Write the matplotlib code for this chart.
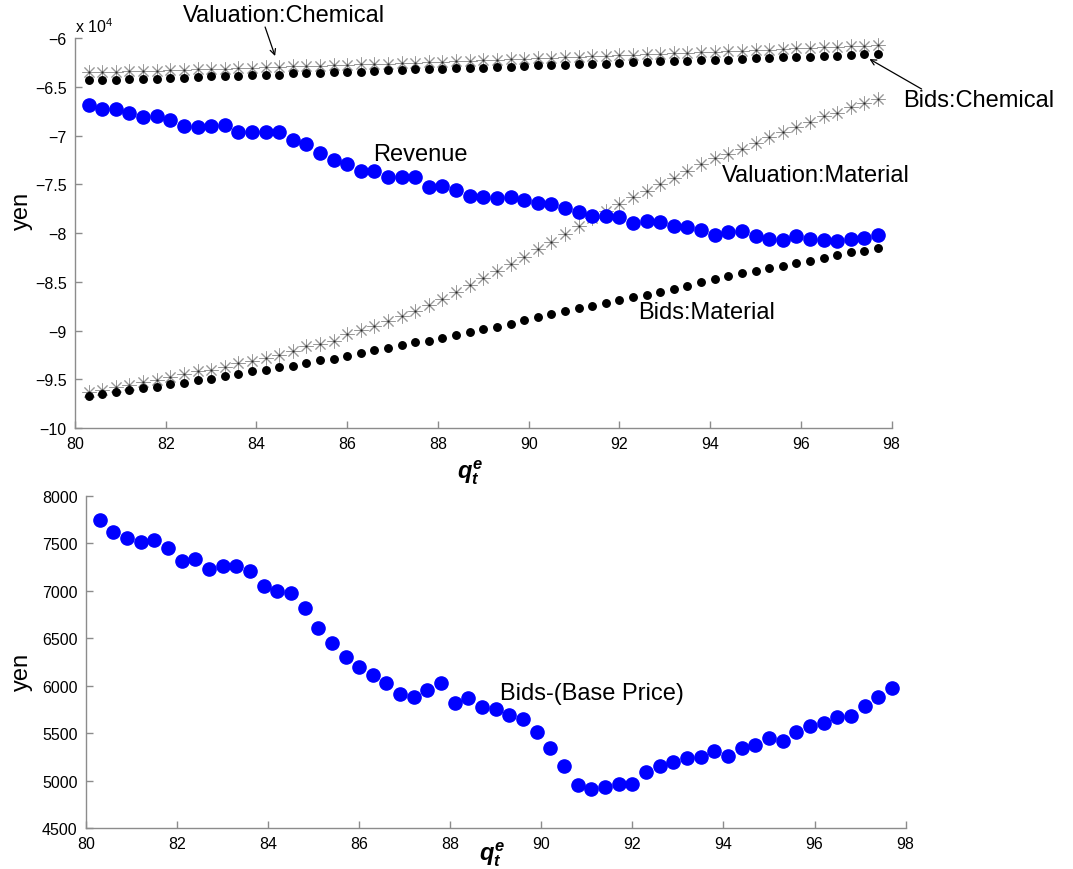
import matplotlib
matplotlib.use('Agg')
import matplotlib.pyplot as plt
from matplotlib.ticker import FuncFormatter

plt.rcParams['font.family'] = ['Liberation Sans', 'DejaVu Sans']
plt.rcParams['mathtext.fontset'] = 'custom'
plt.rcParams['mathtext.it'] = 'Liberation Sans:italic:bold'
plt.rcParams['mathtext.rm'] = 'Liberation Sans'

# q_t^e values (x axis of both panels)
q_e = [80.3, 80.6, 80.9, 81.2, 81.5, 81.8, 82.1, 82.4, 82.7, 83.0,
       83.3, 83.6, 83.9, 84.2, 84.5, 84.8, 85.1, 85.4, 85.7, 86.0,
       86.3, 86.6, 86.9, 87.2, 87.5, 87.8, 88.1, 88.4, 88.7, 89.0,
       89.3, 89.6, 89.9, 90.2, 90.5, 90.8, 91.1, 91.4, 91.7, 92.0,
       92.3, 92.6, 92.9, 93.2, 93.5, 93.8, 94.1, 94.4, 94.7, 95.0,
       95.3, 95.6, 95.9, 96.2, 96.5, 96.8, 97.1, 97.4, 97.7]

val_chemical = [-63500, -63470, -63430, -63400, -63350, -63320, -63280, -63220, -63200, -63150,
                -63100, -63060, -63020, -62980, -62930, -62890, -62850, -62800, -62760, -62720,
                -62680, -62630, -62590, -62540, -62500, -62450, -62400, -62350, -62300, -62250,
                -62200, -62150, -62100, -62050, -62000, -61950, -61900, -61850, -61800, -61750,
                -61700, -61650, -61590, -61530, -61480, -61420, -61370, -61310, -61250, -61200,
                -61150, -61090, -61030, -60980, -60920, -60860, -60810, -60750, -60690]

bids_chemical = [-64300, -64280, -64260, -64180, -64160, -64140, -64050, -64030, -64010, -63900,
                 -63880, -63860, -63750, -63740, -63720, -63600, -63590, -63570, -63460, -63450,
                 -63430, -63320, -63300, -63280, -63180, -63160, -63140, -63060, -63050, -63040,
                 -62930, -62910, -62890, -62780, -62760, -62750, -62640, -62620, -62600, -62500,
                 -62480, -62460, -62360, -62340, -62320, -62220, -62200, -62180, -62080, -62060,
                 -62040, -61940, -61920, -61900, -61800, -61780, -61760, -61620, -61600]

val_material = [-96270, -96100, -95820, -95550, -95310, -95040, -94730, -94460, -94180, -94050,
                -93770, -93330, -93120, -92810, -92480, -92100, -91610, -91380, -91040, -90350,
                -89940, -89500, -88990, -88470, -87960, -87370, -86760, -86010, -85320, -84640,
                -83850, -83170, -82400, -81590, -80880, -80090, -79300, -78480, -77750, -77010,
                -76270, -75690, -74950, -74370, -73590, -72900, -72320, -71880, -71360, -70750,
                -70160, -69590, -69130, -68620, -68010, -67670, -67080, -66640, -66230]

bids_material = [-96680, -96510, -96330, -96070, -95920, -95820, -95510, -95380, -95070, -94970,
                 -94630, -94490, -94180, -94080, -93770, -93640, -93330, -93060, -92920, -92610,
                 -92300, -92030, -91760, -91450, -91140, -91040, -90730, -90450, -90180, -89870,
                 -89600, -89320, -88880, -88640, -88300, -88020, -87710, -87450, -87170, -86830,
                 -86580, -86320, -86010, -85730, -85420, -84980, -84710, -84430, -84120, -83850,
                 -83580, -83400, -83090, -82830, -82520, -82240, -81970, -81800, -81490]

revenue = [-66850, -67260, -67260, -67670, -68110, -67940, -68390, -68970, -69070, -69030,
           -68900, -69650, -69650, -69650, -69650, -70410, -70850, -71800, -72520, -72870,
           -73590, -73590, -74270, -74270, -74270, -75290, -75150, -75560, -76160, -76320,
           -76420, -76260, -76570, -76900, -77010, -77450, -77860, -78210, -78210, -78310,
           -78990, -78750, -78890, -79230, -79340, -79650, -80190, -79910, -79750, -80320,
           -80600, -80670, -80320, -80600, -80670, -80770, -80600, -80500, -80160]

bids_minus_base = [7740, 7621, 7558, 7516, 7533, 7449, 7316, 7330, 7225, 7263,
                   7263, 7210, 7049, 6996, 6979, 6817, 6607, 6446, 6298, 6193,
                   6112, 6031, 5912, 5884, 5957, 6031, 5817, 5873, 5778, 5754,
                   5690, 5645, 5508, 5340, 5150, 4954, 4912, 4936, 4964, 4964,
                   5087, 5150, 5193, 5235, 5245, 5312, 5262, 5340, 5378, 5449,
                   5417, 5508, 5578, 5603, 5673, 5683, 5789, 5884, 5978]

x_ticks = [80, 82, 84, 86, 88, 90, 92, 94, 96, 98]
top_yticks = [-100000, -95000, -90000, -85000, -80000, -75000, -70000, -65000, -60000]
bottom_yticks = [4500, 5000, 5500, 6000, 6500, 7000, 7500, 8000]

AXIS_GRAY = '#8c8c8c'
STAR = (8, 2, 0)


def style_axes(ax):
    for side in ['top', 'right']:
        ax.spines[side].set_visible(False)
    for side in ['left', 'bottom']:
        ax.spines[side].set_color(AXIS_GRAY)
        ax.spines[side].set_linewidth(1.0)
    ax.tick_params(direction='in', length=5, width=1.0, color=AXIS_GRAY,
                   labelsize=11.5, pad=6)
    ax.set_xlim(80, 98)
    ax.set_xticks(x_ticks)


def draw_stars(ax, ys):
    # matlab-like asterisk: light grey spokes with a dark centre
    ax.plot(q_e, ys, linestyle='none', marker=STAR, ms=10, mew=0.7,
            color='0.6', clip_on=False)
    ax.plot(q_e, ys, linestyle='none', marker='o', ms=1.6, mew=0,
            color='0.15', clip_on=False)


fig = plt.figure(figsize=(10.73, 8.7), dpi=100)
ax1 = fig.add_axes([0.0699, 0.5069, 0.7611, 0.4479])
ax2 = fig.add_axes([0.0801, 0.0471, 0.7639, 0.3820])

# top panel
draw_stars(ax1, val_material)
draw_stars(ax1, val_chemical)
ax1.plot(q_e, bids_material, linestyle='none', marker='o', ms=5.4,
         color='black', clip_on=False)
ax1.plot(q_e, bids_chemical, linestyle='none', marker='o', ms=5.4,
         color='black', clip_on=False)
ax1.plot(q_e, revenue, linestyle='none', marker='o', ms=9.5,
         color='#0000ff', clip_on=False)

style_axes(ax1)
ax1.set_ylim(-100000, -60000)
ax1.set_yticks(top_yticks)
ax1.yaxis.set_major_formatter(
    FuncFormatter(lambda v, p: ('%g' % (v / 1e4)).replace('-', '\u2212')))
ax1.set_ylabel('yen', fontsize=17)
ax1.yaxis.set_label_coords(-0.051, 0.559)
ax1.set_xlabel(r'$q_t^e$', fontsize=17)
ax1.xaxis.set_label_coords(0.484, -0.074)

fig.text(75 / 1073, 1 - 27 / 870, r'x 10$^{4}$', fontsize=11.5,
         ha='left', va='center')

arrow = dict(arrowstyle='->', color='black', lw=0.9, shrinkA=0, shrinkB=0)
ax1.annotate('', xy=(84.41, -61817), xytext=(84.19, -58840),
             arrowprops=arrow, annotation_clip=False)
ax1.annotate('', xy=(97.51, -62125), xytext=(98.66, -65204),
             arrowprops=arrow, annotation_clip=False)

ax1.text(82.38, -57609, 'Valuation:Chemical', fontsize=17, ha='left', va='center')
ax1.text(98.25, -66333, 'Bids:Chemical', fontsize=17, ha='left', va='center')
ax1.text(86.57, -71876, 'Revenue', fontsize=17, ha='left', va='center')
ax1.text(94.26, -74031, 'Valuation:Material', fontsize=17, ha='left', va='center')
ax1.text(92.41, -88093, 'Bids:Material', fontsize=17, ha='left', va='center')

# bottom panel
ax2.plot(q_e, bids_minus_base, linestyle='none', marker='o', ms=9.5,
         color='#0000ff', clip_on=False)
style_axes(ax2)
ax2.set_ylim(4500, 8000)
ax2.set_yticks(bottom_yticks)
ax2.set_ylabel('yen', fontsize=17)
ax2.yaxis.set_label_coords(-0.065, 0.472)
ax2.set_xlabel(r'$q_t^e$', fontsize=17)
ax2.xaxis.set_label_coords(0.495, -0.033)
ax2.text(89.09, 5922, 'Bids-(Base Price)', fontsize=17, ha='left', va='center')

fig.savefig('out.png', dpi=100)
